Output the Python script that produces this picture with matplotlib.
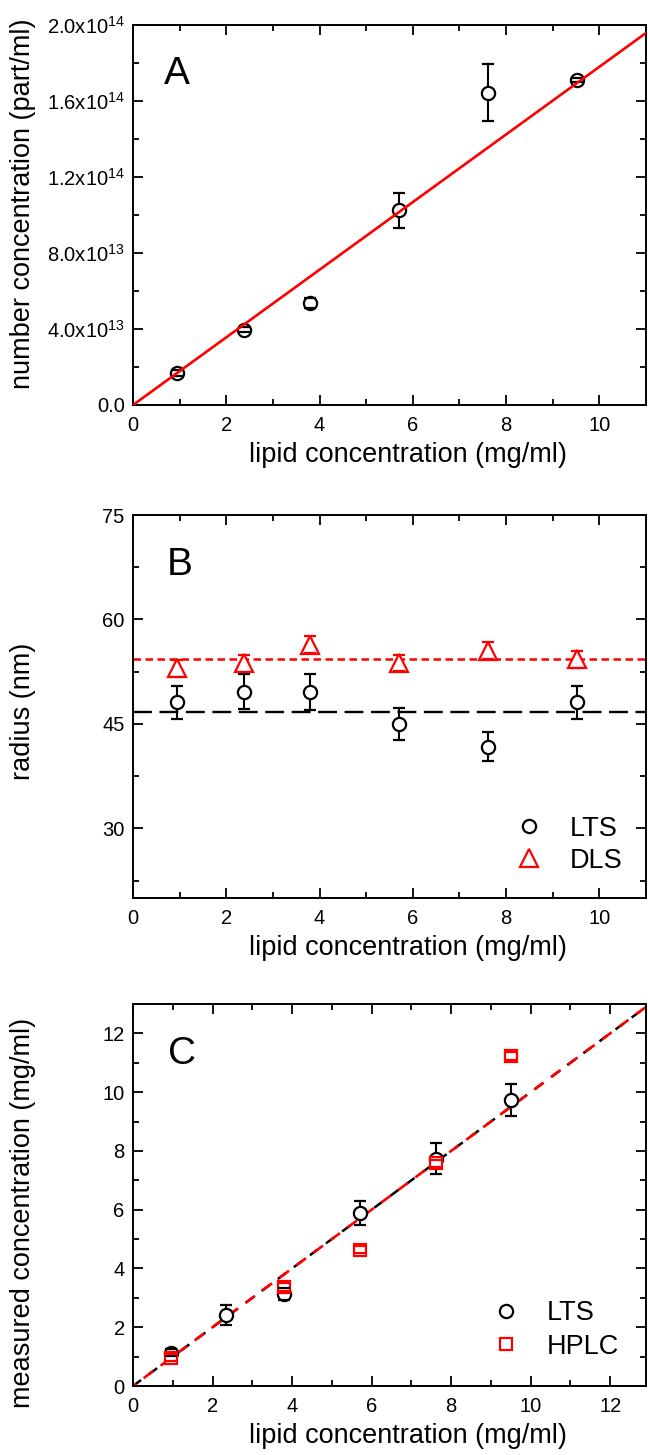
import matplotlib
matplotlib.use("Agg")
import matplotlib.pyplot as plt
import numpy as np

plt.rcParams['font.family'] = ['Liberation Sans', 'DejaVu Sans']
plt.rcParams['mathtext.default'] = 'regular'

# ---------------- data ----------------
lipid = [0.95, 2.38, 3.8, 5.7, 7.62, 9.52]

# Panel A: number concentration (part/ml)
num_conc = [1.68e13, 3.97e13, 5.38e13, 1.026e14, 1.644e14, 1.71e14]
num_err = [0.15e13, 0.12e13, 0.26e13, 0.92e13, 1.49e13, 0.12e13]
fit_slope_A = 1.78e13          # linear fit through origin
fit_x_A = [0, 11]

# Panel B: radius (nm)
lts_radius = [48.1, 49.6, 49.6, 45.0, 41.75, 48.1]
lts_radius_err = [2.4, 2.5, 2.6, 2.3, 2.1, 2.4]
dls_radius = [53.0, 53.7, 56.4, 53.75, 55.5, 54.3]
dls_radius_err = [1.2, 1.2, 1.2, 1.2, 1.2, 1.2]
lts_mean_radius = 46.7
dls_mean_radius = 54.3

# Panel C: measured concentration (mg/ml)
lipid_C = [0.95, 2.35, 3.8, 5.7, 7.62, 9.5]
lts_meas = [1.13, 2.42, 3.12, 5.88, 7.73, 9.73]
lts_meas_err = [0.12, 0.34, 0.2, 0.4, 0.53, 0.55]
hplc_x = [0.95, 3.8, 5.7, 7.62, 9.5]
hplc_meas = [0.96, 3.37, 4.63, 7.58, 11.23]
hplc_err = [0.12, 0.12, 0.12, 0.12, 0.12]
ident_x = [0, 13]

A_yticks = [0, 4e13, 8e13, 1.2e14, 1.6e14, 2.0e14]
A_yticklabels = ['0.0', '4.0x10$^{13}$', '8.0x10$^{13}$', '1.2x10$^{14}$',
                 '1.6x10$^{14}$', '2.0x10$^{14}$']

RED = '#ff0000'
TICK_FS = 14.5
LABEL_FS = 19.5
LEG_FS = 19.5
LETTER_FS = 28

W, H = 648, 1455
fig = plt.figure(figsize=(W / 100, H / 100), dpi=100)


def make_axes(top_px, bottom_px, left_px=133, right_px=646):
    return fig.add_axes([left_px / W, 1 - bottom_px / H,
                         (right_px - left_px) / W, (bottom_px - top_px) / H])


def style(ax):
    for s in ax.spines.values():
        s.set_linewidth(1.4)
    ax.tick_params(which='both', direction='in', top=True, right=True,
                   width=1.3, labelsize=TICK_FS)
    ax.tick_params(which='major', length=7)
    ax.tick_params(which='minor', length=4)
    ax.tick_params(axis='x', which='both', pad=8)
    ax.tick_params(axis='y', which='both', pad=6)


def ebar(ax, x, y, err, marker, color, ms, label=None):
    cont = ax.errorbar(x, y, yerr=err, fmt=marker, ms=ms, mfc='white', mec=color,
                       mew=1.6, ecolor=color, elinewidth=1.5, capsize=4,
                       capthick=1.5, label=label, zorder=3)
    for c in cont[1]:
        c.set_zorder(4)
    return cont


# ---------------- Panel A ----------------
axA = make_axes(25, 405)
style(axA)
ebar(axA, lipid, num_conc, num_err, 'o', 'black', 9.5)
fx = np.array(fit_x_A, dtype=float)
axA.plot(fx, fit_slope_A * fx, color=RED, lw=1.9, zorder=5)
axA.set_xlim(0, 11)
axA.set_ylim(0, 2.0e14)
axA.set_xticks([0, 2, 4, 6, 8, 10])
axA.set_xticks(np.arange(1, 11, 2), minor=True)
axA.set_yticks(A_yticks)
axA.set_yticklabels(A_yticklabels)
axA.set_yticks(np.arange(2e13, 2e14, 4e13), minor=True)
axA.set_xlabel('lipid concentration (mg/ml)', fontsize=LABEL_FS)
axA.set_ylabel('number concentration (part/ml)', fontsize=LABEL_FS)
axA.xaxis.set_label_coords(0.535, -0.097)
axA.yaxis.set_label_coords(-0.19, 0.53)
axA.text(0.06, 0.87, 'A', transform=axA.transAxes, fontsize=LETTER_FS,
         ha='left', va='center')

# ---------------- Panel B ----------------
axB = make_axes(515, 898)
style(axB)
axB.axhline(lts_mean_radius, color='black', lw=1.7, dashes=(8, 3.2), zorder=2)
axB.axhline(dls_mean_radius, color=RED, lw=1.8, dashes=(3, 1.8), zorder=2)
eL = ebar(axB, lipid, lts_radius, lts_radius_err, 'o', 'black', 9.5)
eD = ebar(axB, lipid, dls_radius, dls_radius_err, '^', RED, 12.5)
axB.set_xlim(0, 11)
axB.set_ylim(20, 75)
axB.set_xticks([0, 2, 4, 6, 8, 10])
axB.set_xticks(np.arange(1, 11, 2), minor=True)
axB.set_yticks([30, 45, 60, 75])
axB.set_yticks([22.5, 37.5, 52.5, 67.5], minor=True)
axB.set_xlabel('lipid concentration (mg/ml)', fontsize=LABEL_FS)
axB.set_ylabel('radius (nm)', fontsize=LABEL_FS)
axB.xaxis.set_label_coords(0.535, -0.097)
axB.yaxis.set_label_coords(-0.19, 0.486)
axB.text(0.066, 0.87, 'B', transform=axB.transAxes, fontsize=LETTER_FS,
         ha='left', va='center')
axB.legend([eL[0], eD[0]], ['LTS', 'DLS'], loc='upper left',
           bbox_to_anchor=(0.745, 0.215), frameon=False, fontsize=LEG_FS,
           handlelength=1.0, handletextpad=1.0, labelspacing=0.22,
           borderpad=0, borderaxespad=0, numpoints=1)

# ---------------- Panel C ----------------
axC = make_axes(1004, 1386)
style(axC)
ix = np.array(ident_x, dtype=float)
axC.plot(ix, ix, color='black', lw=1.8, linestyle=(0, (4.0, 4.0)), zorder=2)
axC.plot(ix, ix, color=RED, lw=1.9, linestyle=(3.0, (4.5, 3.5)), zorder=2.5)
eC1 = ebar(axC, lipid_C, lts_meas, lts_meas_err, 'o', 'black', 9.5)
eC2 = ebar(axC, hplc_x, hplc_meas, hplc_err, 's', RED, 8.5)
axC.set_xlim(0, 12.9)
axC.set_ylim(0, 13)
axC.set_xticks([0, 2, 4, 6, 8, 10, 12])
axC.set_xticks(np.arange(1, 13, 2), minor=True)
axC.set_yticks([0, 2, 4, 6, 8, 10, 12])
axC.set_yticks(np.arange(1, 13, 2), minor=True)
axC.set_xlabel('lipid concentration (mg/ml)', fontsize=LABEL_FS)
axC.set_ylabel('measured concentration (mg/ml)', fontsize=LABEL_FS)
axC.xaxis.set_label_coords(0.535, -0.097)
axC.yaxis.set_label_coords(-0.19, 0.452)
axC.text(0.068, 0.87, 'C', transform=axC.transAxes, fontsize=LETTER_FS,
         ha='left', va='center')
axC.legend([eC1[0], eC2[0]], ['LTS', 'HPLC'], loc='upper left',
           bbox_to_anchor=(0.7, 0.225), frameon=False, fontsize=LEG_FS,
           handlelength=1.0, handletextpad=1.0, labelspacing=0.28,
           borderpad=0, borderaxespad=0, numpoints=1)

fig.savefig('out.png', dpi=100)
